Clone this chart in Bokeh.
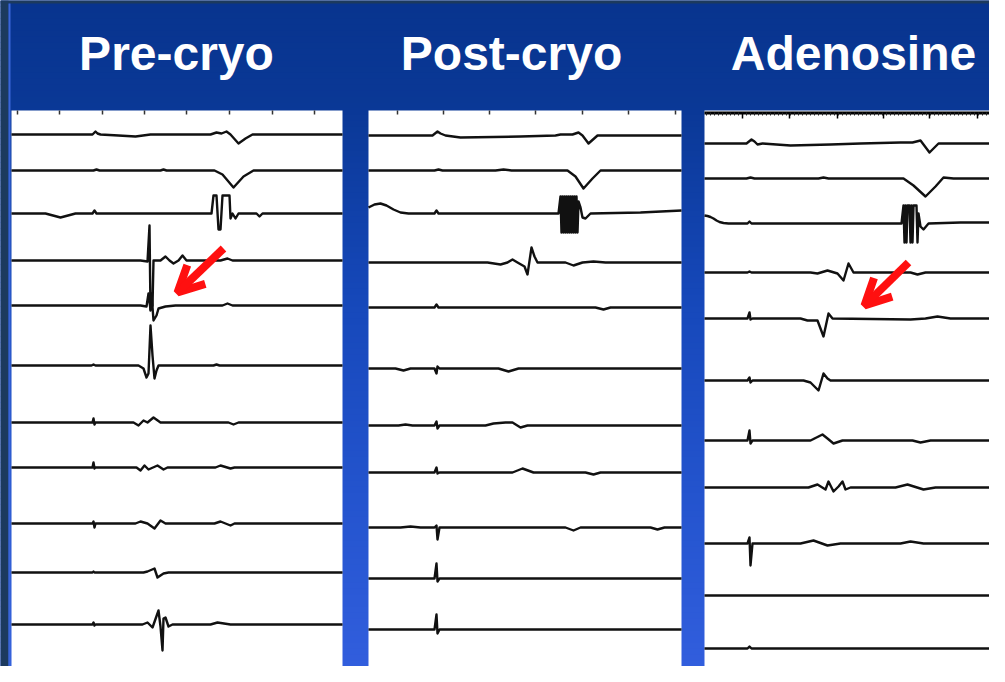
from bokeh.plotting import figure
from bokeh.models import Range1d, Arrow, OpenHead
from bokeh.core.properties import value
from bokeh.embed import file_html
from bokeh.resources import INLINE

# ---------------- data (image pixel units) ----------------
panel_titles = ["Pre-cryo", "Post-cryo", "Adenosine"]

pre_ticks = [17, 59, 102, 144, 186, 229, 272, 314]
post_ticks = [397, 443, 489, 535, 582, 628, 675]
aden_ticks = [742, 789, 837, 883, 929, 977]

pre_baselines = [134, 170, 213, 260, 305, 365, 422, 467, 523, 572, 624]
pre_waves = [
    [(92, 0), (95, 3), (97, 1), (100, 0), (118, -1), (135, -2), (150, 0), (210, 0), (216, 2), (221, 1),
     (226, 3), (230, 0), (238, -9), (245, -4), (252, 0)],
    [(93, 0), (96, 1), (99, 0), (160, 0), (163, 1), (166, 0), (214, 0), (222, -4), (233, -17), (243, -6), (253, 0)],
    [(45, 0), (60, -4), (75, 0), (92, 0), (94, 3), (96, 0), (211, 0), (213, 18), (216, 18), (218, -16),
     (220, -16), (222, 18), (229, 18), (230, -5), (232, 0), (235, -5), (238, 0), (256, 0), (259, -3), (262, 0)],
    [(140, 0), (147, -1), (149, 35), (150, -50), (152, -45), (153, 0), (160, 0), (165, 4), (169, 0), (173, -3),
     (178, 0), (182, 5), (186, 0), (220, 0), (227, 2), (232, 0)],
    [(140, 0), (146, -1), (148, 12), (150, -4), (151, 12), (153, -15), (156, -10), (158, -3), (165, -1),
     (175, 0), (222, 0), (227, 2), (232, 0)],
    [(91, 0), (93, 1), (95, 0), (138, 0), (143, -3), (146, -12), (148, -8), (150, 40), (152, 10), (154, -13),
     (156, -5), (158, 0), (213, 0), (216, 1), (219, 0)],
    [(92, 0), (93, 4), (94, -2), (95, 0), (133, 0), (138, -3), (143, 2), (147, 0), (153, 5), (160, 0),
     (228, 0), (233, -2), (238, 0)],
    [(92, 0), (93, 5), (94, -1), (95, 0), (136, 0), (140, -3), (144, 2), (148, -2), (157, 2), (163, -2),
     (167, 0), (215, 0), (220, 2), (230, -1), (234, 0)],
    [(92, 0), (93, 2), (94, -4), (95, 0), (135, 0), (140, 2), (147, 0), (154, -5), (160, 3), (165, 0),
     (214, 0), (220, 2), (230, -2), (234, 0)],
    [(92, 0), (93, 1), (94, 0), (143, 0), (147, 1), (154, 4), (157, -5), (163, -1), (168, 0)],
    [(92, 0), (93, 2), (94, -1), (95, 0), (142, 0), (147, 2), (152, -3), (158, 14), (160, -2), (162, -26),
     (163, 6), (165, 7), (168, -2), (172, 0), (210, 0), (217, 2), (230, 0)],
]

post_baselines = [135, 170, 213, 262, 307, 368, 425, 472, 527, 578, 629]
post_waves = [
    [(432, 0), (437, 4), (440, 2), (445, 0), (460, -2), (520, -1), (555, 0), (560, 1), (572, 1), (578, 3),
     (582, 0), (588, -8), (597, 0)],
    [(434, 0), (438, 1), (442, 0), (495, 0), (503, 1), (511, 0), (567, 0), (575, -6), (583, -18), (592, -8),
     (600, 0)],
    [(368, 6), (374, 9), (380, 10), (386, 8), (393, 4), (400, 1), (408, 0), (434, 0), (436, 3), (438, 0),
     (558, 0), (560, 17), (561, -19), (562, 17), (563, -19), (564, 17), (565, -19), (566, 17), (567, -19),
     (568, 17), (569, -19), (570, 17), (571, -19), (572, 17), (573, -19), (574, 17), (575, -19), (576, 17),
     (577, -19), (578, 12), (580, 6), (582, -4), (585, -5), (590, 0), (640, 1), (681, 3)],
    [(480, 0), (487, 0), (500, -2), (507, 0), (512, 3), (517, 0), (524, -4), (527, -12), (531, 15),
     (534, 6), (537, 0), (565, 0), (573, -3), (582, 0), (593, 1), (605, 0)],
    [(434, 0), (436, 3), (438, 0), (595, 0), (603, -2), (610, 0)],
    [(395, 0), (403, -2), (410, 0), (434, 0), (436, -5), (437, 2), (439, 0), (498, 0), (508, -3), (518, 0)],
    [(398, 0), (405, 1), (412, 0), (434, 0), (436, 4), (437, -3), (439, 0), (485, 0), (493, 2), (505, 3),
     (512, 3), (520, -2), (527, 0)],
    [(434, 0), (436, 5), (437, -1), (439, 0), (512, 0), (522, 4), (533, 0), (585, 0), (593, -2), (600, 0)],
    [(400, 0), (410, 1), (420, 0), (434, 0), (436, 2), (437, -12), (439, 0), (565, 0), (573, -3), (580, 0),
     (650, 0), (657, -2), (664, 0)],
    [(434, 0), (436, 15), (437, -3), (439, 0)],
    [(434, 0), (436, 15), (437, -4), (439, 0)],
]

aden_baselines = [143, 178, 223, 272, 318, 380, 440, 487, 543, 595, 648]
aden_waves = [
    [(746, 0), (751, 4), (754, 2), (757, -1), (762, 0), (790, -2), (830, -1), (860, 0), (900, 1), (912, 1),
     (920, 3), (929, -9), (938, 0)],
    [(746, 0), (750, 1), (754, 0), (818, 0), (823, 1), (828, 0), (903, 0), (913, -7), (925, -18), (935, -8),
     (943, 1), (953, 0)],
    [(704, 8), (707, 7.5), (710, 6.5), (713, 5), (716, 3), (719, 1.5), (723, 0.5), (728, 0), (747, 0),
     (749, 2), (751, 0), (901, 0), (903, 18),
     (904, -19), (905, 18), (906, -19), (907, 18), (909, 18), (910, -19), (911, 18), (912, -19), (913, 18),
     (916, 18), (917, -19), (918, 10), (920, -3), (923, -6), (928, 0), (960, 1), (1005, 1)],
    [(747, 0), (749, 1), (751, 0), (810, 0), (817, -1), (827, 2), (837, -1), (843, -8), (848, 9), (853, 0),
     (910, 0), (917, -2), (925, 0)],
    [(747, 0), (749, 6), (750, -1), (752, 0), (800, 0), (807, -2), (817, -2), (823, -18), (828, 5), (832, 0),
     (910, -1), (925, 0), (937, 2), (950, 0)],
    [(747, 0), (749, 3), (750, -2), (752, 0), (803, 0), (810, -2), (818, -10), (823, 7), (827, 2), (830, 0)],
    [(747, 0), (749, 10), (750, -3), (752, 0), (810, 0), (822, 6), (827, 2), (833, -3), (842, 0), (912, 0),
     (920, -2), (930, 0)],
    [(800, 0), (808, 0), (817, 3), (825, -2), (828, 6), (833, -4), (838, 1), (842, 6), (845, -2), (850, 0),
     (895, 0), (907, 3), (923, -2), (935, 0)],
    [(747, 0), (749, 6), (750, -22), (752, 0), (800, 0), (813, 3), (827, -2), (840, 0), (900, 0), (910, 2),
     (923, 0)],
    [],
    [(747, 0), (749, 2), (751, 0)],
]

# ---------------- layout / style ----------------
W, H = 989, 666
panel_left = [11, 368, 704]
panel_right = [342, 681, 1005]
panel_top = 110
title_x = [176, 511, 853]
title_y = 53
trace_color = "#111111"

p = figure(width=W, height=H, x_range=Range1d(0, W), y_range=Range1d(H, 0),
           output_backend="svg", toolbar_location=None, x_axis_type=None, y_axis_type=None,
           min_border=0, background_fill_color="#0a3792", border_fill_color="#0a3792")
p.grid.visible = False
p.outline_line_color = None

# background: vertical gradient of the slide
stops = [(0, (8, 52, 142)), (108, (10, 56, 150)), (300, (22, 72, 186)), (500, (36, 84, 206)), (700, (52, 96, 224))]
def col_at(y):
    for (ya, ca), (yb, cb) in zip(stops[:-1], stops[1:]):
        if ya <= y <= yb:
            t = (y - ya) / (yb - ya)
            return "#%02x%02x%02x" % tuple(int(round(a + (b - a) * t)) for a, b in zip(ca, cb))
    return "#%02x%02x%02x" % stops[-1][1]

band_top, band_bot, band_col = [], [], []
step = 6
y = 0
while y < 700:
    band_top.append(y)
    band_bot.append(y + step + 0.5)
    band_col.append(col_at(y + step / 2))
    y += step
p.quad(left=0, right=1010, top=band_top, bottom=band_bot, fill_color=band_col, line_color=None)

# dark frame strips at the left and top edges of the slide
p.quad(left=[0, 0], right=[8, 1010], top=[0, 0], bottom=[700, 3], fill_color="#1c3a5e", line_color=None)
p.quad(left=[8], right=[10], top=[3], bottom=[700], fill_color="#3a66d8", line_color=None)

# titles
p.text(x=title_x, y=[title_y] * 3, text=panel_titles, text_font=value("Liberation Sans"),
       text_font_style="bold", text_font_size="48px", text_color="white",
       text_align="center", text_baseline="alphabetic")

# white panels
p.quad(left=panel_left, right=panel_right, top=[panel_top] * 3, bottom=[700] * 3,
       fill_color="white", line_color=None)

# tick marks on the top of the panels
tk_x = pre_ticks + post_ticks
p.segment(x0=tk_x, y0=[110] * len(tk_x), x1=tk_x, y1=[114] * len(tk_x), line_color="#333333", line_width=1.5)
p.segment(x0=[704], y0=[112.5], x1=[1005], y1=[112.5], line_color="black", line_width=3)
fine = list(range(706, 1005, 4))
p.segment(x0=fine, y0=[112] * len(fine), x1=fine, y1=[115] * len(fine), line_color="#222222", line_width=1)
p.segment(x0=aden_ticks, y0=[112] * len(aden_ticks), x1=aden_ticks, y1=[118] * len(aden_ticks),
          line_color="black", line_width=1.5)

# traces
xs, ys = [], []
for (bases, waves), left, right in zip(
        [(pre_baselines, pre_waves), (post_baselines, post_waves), (aden_baselines, aden_waves)],
        panel_left, panel_right):
    for base, pts in zip(bases, waves):
        pts = list(pts)
        if not pts or pts[0][0] > left:
            pts = [(left, 0)] + pts
        if pts[-1][0] < right:
            pts = pts + [(right, 0)]
        xs.append([q[0] for q in pts])
        ys.append([base - q[1] for q in pts])
p.multi_line(xs=xs, ys=ys, line_color=trace_color, line_width=2.4, line_join="round")

# red arrows
arrow_tail = [(223, 248), (908, 262)]
arrow_tip = [(177, 292), (864, 305)]
for (xa, ya), (xb, yb) in zip(arrow_tail, arrow_tip):
    p.add_layout(Arrow(x_start=xa, y_start=ya, x_end=xb, y_end=yb, line_color="#ff1010", line_width=8,
                       end=OpenHead(size=26, line_color="#ff1010", line_width=8)))

open("out.html", "w").write(file_html(p, INLINE))
